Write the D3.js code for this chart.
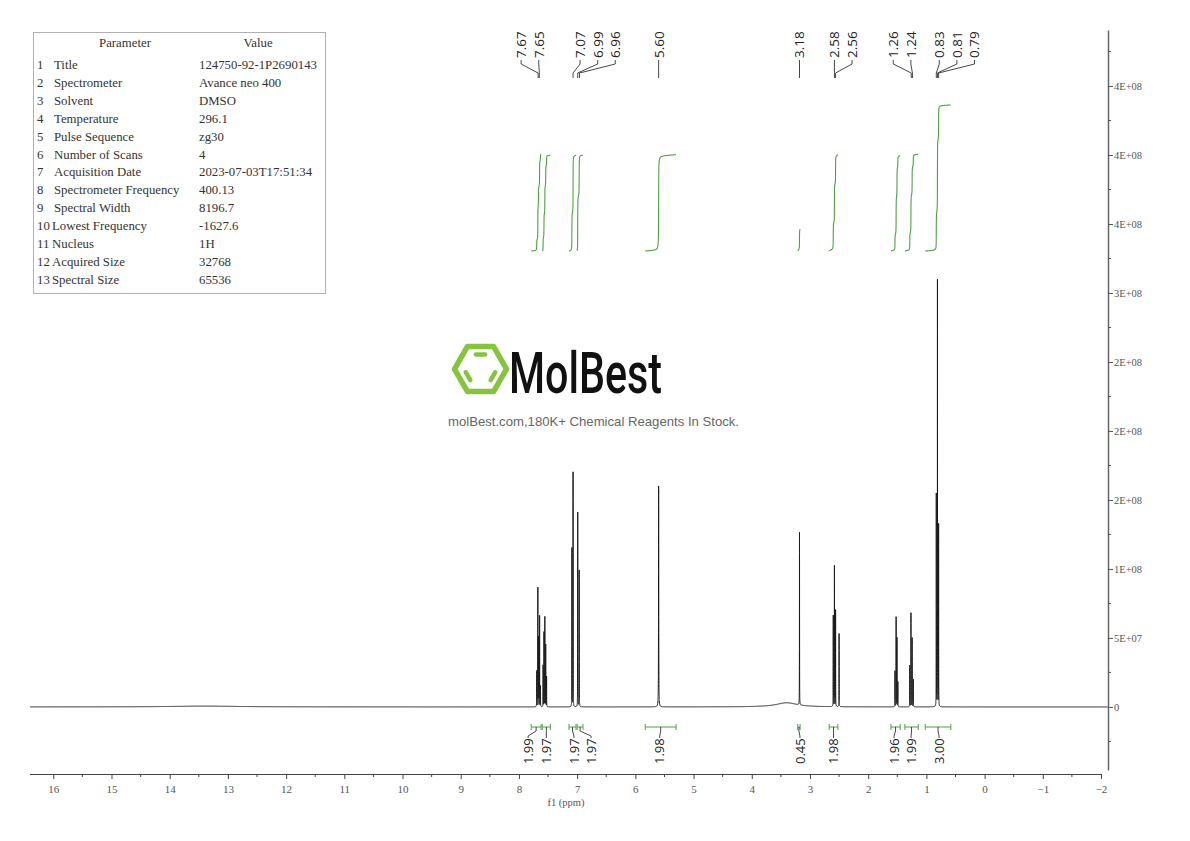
<!DOCTYPE html>
<html><head><meta charset="utf-8">
<script src="https://cdn.jsdelivr.net/npm/d3@7"></script>
<style>body{margin:0;background:#fff}svg{display:block}</style>
</head><body>
<svg id="c" width="1190" height="841"></svg>
<script>
// ---------------- DATA ----------------
const paramNames = ["Title","Spectrometer","Solvent","Temperature","Pulse Sequence","Number of Scans","Acquisition Date","Spectrometer Frequency","Spectral Width","Lowest Frequency","Nucleus","Acquired Size","Spectral Size"];
const paramValues = ["124750-92-1P2690143","Avance neo 400","DMSO","296.1","zg30","4","2023-07-03T17:51:34","400.13","8196.7","-1627.6","1H","32768","65536"];

const xTickValues = [16,15,14,13,12,11,10,9,8,7,6,5,4,3,2,1,0,-1,-2];
const yTickValues = [0,5e7,1e8,1.5e8,2e8,2.5e8,3e8,3.5e8,4e8,4.5e8];
const yTickLabels = ["0","5E+07","1E+08","2E+08","2E+08","2E+08","3E+08","4E+08","4E+08","4E+08"];

// sharp lines (ppm, intensity)
const peakPpm    = [7.695,7.675,7.665,7.645,7.63, 7.585,7.57,7.555,7.54,7.525, 7.09,7.07,6.99,6.965, 5.60, 3.18, 2.60,2.58,2.56,2.50, 1.54,1.52,1.505,1.49, 1.285,1.265,1.245,1.225, 0.83,0.81,0.79];
const peakHeight = [2.6e7,8.6e7,5.0e7,6.6e7,1.5e7, 3.0e7,5.4e7,6.5e7,4.5e7,2.2e7, 1.15e8,1.70e8,1.41e8,0.99e8, 1.60e8, 1.25e8, 6.6e7,1.02e8,7.0e7,5.3e7, 2.6e7,6.5e7,5.0e7,1.8e7, 3.0e7,6.8e7,5.0e7,2.0e7, 1.54e8,3.09e8,1.32e8];
// broad features (water hump etc.)
const humpPpm    = [3.40, 13.4];
const humpHeight = [3.0e6, 6e5];
const humpWidth  = [0.22, 0.7];

// integrals
const integralFrom  = [7.79,7.60,7.14,7.00,5.83,3.21,2.67,1.61,1.37,1.02];
const integralTo    = [7.62,7.46,7.02,6.90,5.30,3.17,2.52,1.45,1.14,0.58];
const integralValue = [1.99,1.97,1.97,1.97,1.98,0.45,1.98,1.96,1.99,3.00];

// peak labels
const peakLabels = [7.67,7.65,7.07,6.99,6.96,5.60,3.18,2.58,2.56,1.26,1.24,0.83,0.81,0.79];

// ---------------- LAYOUT ----------------
const svg = d3.select("#c");
const x = d3.scaleLinear().domain([16.4,-2.12]).range([30,1108]);
const y = d3.scaleLinear().domain([-4.57e7,4.906e8]).range([770,30]);
const iy = d3.scaleLinear().domain([0,3]).range([251,105]);

const serif = "'Liberation Serif','DejaVu Serif',serif";
const sans = "'Open Sans','Noto Sans',sans-serif";

// ---------------- TABLE ----------------
const tbl = svg.append("g");
tbl.append("rect").attr("x",33.5).attr("y",32.5).attr("width",292).attr("height",261)
  .attr("fill","#fff").attr("stroke","#b0b0b0").attr("stroke-width",1);
tbl.append("text").attr("x",125).attr("y",47).attr("text-anchor","middle").text("Parameter");
tbl.append("text").attr("x",258).attr("y",47).attr("text-anchor","middle").text("Value");
paramNames.forEach((n,i)=>{
  const yy = 69 + i*17.9;
  tbl.append("text").attr("x",37).attr("y",yy).text(String(i+1));
  tbl.append("text").attr("x",i>=9?52:54).attr("y",yy).text(n);
  tbl.append("text").attr("x",199).attr("y",yy).text(paramValues[i]);
});
tbl.selectAll("text").attr("font-family",serif).attr("font-size",12.8).attr("fill","#333");

// ---------------- WATERMARK ----------------
const logo = svg.append("g");
const hc=[480.5,369], R=26;
const green2="#86c440";
const hex = d3.range(6).map(k=>[hc[0]+R*Math.cos(k*Math.PI/3), hc[1]+R*Math.sin(k*Math.PI/3)]);
logo.append("polygon").attr("points",hex.map(p=>p.join(",")).join(" "))
  .attr("fill","none").attr("stroke",green2).attr("stroke-width",5.5).attr("stroke-linejoin","round");
const inner = (a,b)=>{
  const r=R*0.64, s=0.55;
  const pa=[hc[0]+r*Math.cos(a*Math.PI/3),hc[1]+r*Math.sin(a*Math.PI/3)];
  const pb=[hc[0]+r*Math.cos(b*Math.PI/3),hc[1]+r*Math.sin(b*Math.PI/3)];
  const m=[(pa[0]+pb[0])/2,(pa[1]+pb[1])/2];
  return [[m[0]+(pa[0]-m[0])*s,m[1]+(pa[1]-m[1])*s],[m[0]+(pb[0]-m[0])*s,m[1]+(pb[1]-m[1])*s]];
};
[[4,5],[0,1],[2,3]].forEach(([a,b])=>{
  const l=inner(a,b);
  logo.append("line").attr("x1",l[0][0]).attr("y1",l[0][1]).attr("x2",l[1][0]).attr("y2",l[1][1])
    .attr("stroke",green2).attr("stroke-width",4.5).attr("stroke-linecap","round");
});
logo.append("text").attr("x",509).attr("y",393).attr("font-family","Roboto,'DejaVu Sans',sans-serif")
  .attr("font-size",57).attr("font-weight",500).attr("textLength",153).attr("lengthAdjust","spacingAndGlyphs")
  .attr("fill","#111").text("MolBest");
logo.append("text").attr("x",448).attr("y",425.5).attr("font-family","'Liberation Sans',Arial,sans-serif")
  .attr("font-size",13).attr("textLength",291).attr("lengthAdjust","spacingAndGlyphs")
  .attr("fill","#666").text("molBest.com,180K+ Chemical Reagents In Stock.");

// ---------------- SPECTRUM ----------------
const HW = 0.0011;
function spec(p){
  let s=0;
  for(let i=0;i<peakPpm.length;i++){const w=(peakPpm[i]===5.60?0.002:HW);const d=(p-peakPpm[i])/w;s+=peakHeight[i]/(1+d*d);}
  for(let i=0;i<humpPpm.length;i++){const d=(p-humpPpm[i])/humpWidth[i];s+=humpHeight[i]/(1+d*d);}
  return s;
}
let pts = d3.range(16.4,-2.12,-0.004);
peakPpm.forEach(c=>{ for(let d=-0.012; d<=0.012; d+=0.0002) pts.push(c+d); });
pts.sort((a,b)=>b-a);
const specData = pts.map(p=>[p,spec(p)]);
svg.append("path").datum(specData)
  .attr("d",d3.line().x(d=>x(d[0])).y(d=>y(d[1])))
  .attr("fill","none").attr("stroke","#1a1a1a").attr("stroke-width",1);

// ---------------- INTEGRALS ----------------
const green = "#4f9f47";
integralFrom.forEach((a,i)=>{
  const b=integralTo[i]; const st=0.0004;
  const ps=d3.range(a,b,-st); let cum=0; const arr=[];
  ps.forEach(p=>{cum+=spec(p); arr.push([p,cum]);});
  const tot=cum;
  const curve=arr.map(d=>[d[0],integralValue[i]*d[1]/tot]);
  svg.append("path").datum(curve).attr("d",d3.line().x(d=>x(d[0])).y(d=>iy(d[1])))
    .attr("fill","none").attr("stroke",green).attr("stroke-width",1.1);
});

// integral brackets + labels
const intLabelShift = [-8,0,1.5,11,-1,1,0,-1.5,-0.5,1];
integralFrom.forEach((a,i)=>{
  const b=integralTo[i]; const x1=x(a), x2=x(b), cx=(x1+x2)/2, by=727;
  const g=svg.append("g");
  g.append("line").attr("x1",x1).attr("x2",x2).attr("y1",by).attr("y2",by).attr("stroke",green);
  [x1,x2].forEach(xx=>g.append("line").attr("x1",xx).attr("x2",xx).attr("y1",by-3).attr("y2",by+3).attr("stroke",green));
  const lx=cx+intLabelShift[i];
  g.append("path").attr("d",`M${cx},${by}V${by+4}L${lx},${by+9}V${by+11}`)
    .attr("fill","none").attr("stroke","#333").attr("stroke-width",0.9);
  g.append("text").attr("transform",`translate(${lx},${764}) rotate(-90)`)
    .attr("dy","0.36em").attr("font-family",sans).attr("font-size",13).attr("fill","#222")
    .text(integralValue[i].toFixed(2));
});

// ---------------- PEAK LABELS ----------------
const clusters=[{n:2,shift:-17},{n:3,shift:7},{n:1,shift:0},{n:1,shift:0},{n:2,shift:0},{n:2,shift:-18},{n:3,shift:3}];
let k=0;
clusters.forEach(c=>{
  const x0 = x(peakLabels[k]) + c.shift;
  for(let j=0;j<c.n;j++,k++){
    const p=peakLabels[k], lx=x0+j*17.6, px=x(p);
    svg.append("path").attr("d",`M${lx},60V64L${px},73V78`)
      .attr("fill","none").attr("stroke","#333").attr("stroke-width",0.9);
    svg.append("text").attr("transform",`translate(${lx},58) rotate(-90)`)
      .attr("dy","0.36em").attr("font-family",sans).attr("font-size",13.5).attr("fill","#222")
      .text(p.toFixed(2));
  }
});

// ---------------- AXES ----------------
const xAxis = d3.axisBottom(x).tickValues(xTickValues).tickSize(5).tickSizeOuter(0).tickFormat(d=>d<0?"\u2212"+(-d):d);
const gx = svg.append("g").attr("transform","translate(0,774)").call(xAxis);
gx.select(".domain").attr("d","M30,0.5H1101").attr("stroke","#444");
gx.selectAll(".tick line").attr("stroke","#444");
gx.selectAll(".tick text").attr("font-family",serif).attr("font-size",11).attr("fill","#555").attr("dy","1.0em");
gx.selectAll(".minor").data(d3.range(15.5,-2,-1)).enter().append("line")
  .attr("x1",d=>x(d)).attr("x2",d=>x(d)).attr("y1",0).attr("y2",3).attr("stroke","#444");
svg.append("text").attr("x",566).attr("y",806).attr("text-anchor","middle")
  .attr("font-family",serif).attr("font-size",10.5).attr("fill","#555").text("f1 (ppm)");

const yAxis = d3.axisRight(y).tickValues(yTickValues).tickSize(5).tickSizeOuter(0).tickFormat((d,i)=>yTickLabels[i]);
const gy = svg.append("g").attr("transform","translate(1108,0)").call(yAxis);
gy.select(".domain").attr("stroke","#666").attr("stroke-width",1.5);
gy.selectAll(".tick line").attr("stroke","#555");
gy.selectAll(".tick text").attr("font-family",serif).attr("font-size",10.5).attr("fill","#555").attr("x",6);
gy.selectAll(".minor").data(d3.range(-2.5e7,4.9e8,5e7)).enter().append("line")
  .attr("x1",0).attr("x2",3).attr("y1",d=>y(d)).attr("y2",d=>y(d)).attr("stroke","#555");
</script>
</body></html>
